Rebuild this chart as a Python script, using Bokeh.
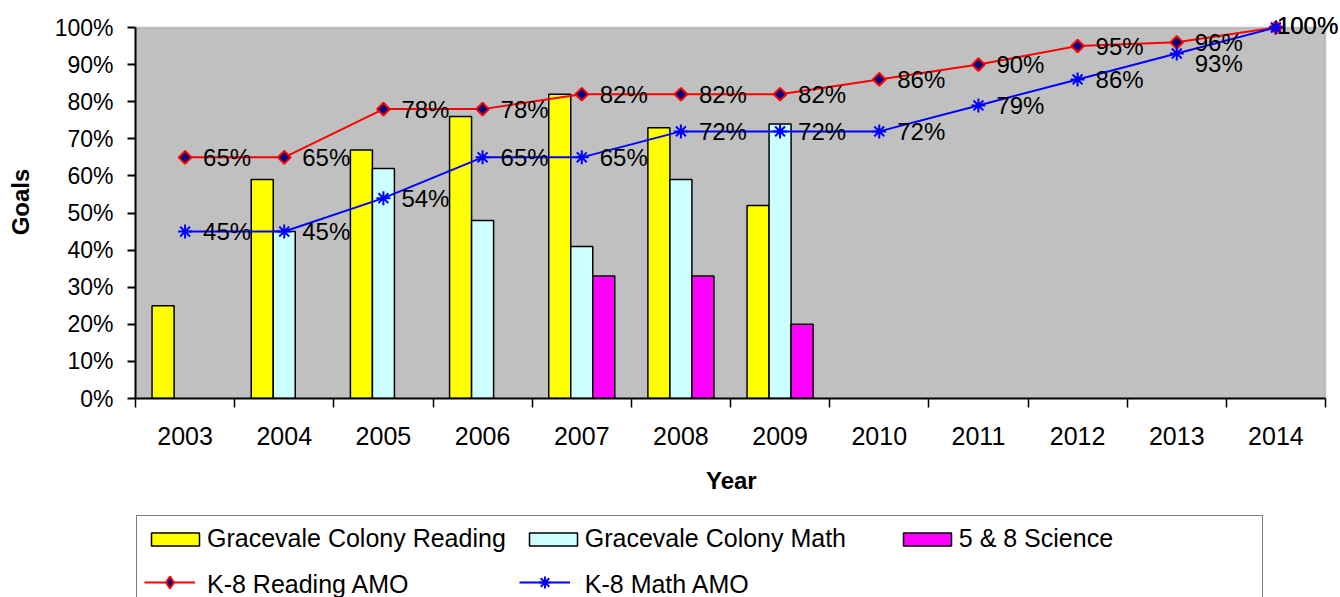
import numpy as np
from bokeh.plotting import figure
from bokeh.layouts import column
from bokeh.models import (ColumnDataSource, FixedTicker, PrintfTickFormatter, BoxAnnotation,
                          Legend, LegendItem, Range1d, BasicTickFormatter, Label)
from bokeh.embed import file_html
from bokeh.resources import INLINE

# ---------------- data ----------------
years = [2003, 2004, 2005, 2006, 2007, 2008, 2009, 2010, 2011, 2012, 2013, 2014]
colony_reading = [25, 59, 67, 76, 82, 73, 52, None, None, None, None, None]
colony_math = [None, 45, 62, 48, 41, 59, 74, None, None, None, None, None]
science_5_8 = [None, None, None, None, 33, 33, 20, None, None, None, None, None]
reading_amo = [65, 65, 78, 78, 82, 82, 82, 86, 90, 95, 96, 100]
math_amo = [45, 45, 54, 65, 65, 72, 72, 72, 79, 86, 93, 100]
y_ticks = [0, 10, 20, 30, 40, 50, 60, 70, 80, 90, 100]

FONT = "Liberation Sans"
YELLOW, CYAN, MAGENTA = "#FFFF00", "#CCFFFF", "#FF00FF"
RED, BLUE, NAVY = "#FF0000", "#0000FF", "#000080"

# layout (pixels): plot area 1190 x 371, with extra room right/top inside the frame
# so that the end labels ("100%") can run past the grey plot area as in the original
AREA_W, AREA_H, PAD_R, PAD_T = 1190, 371, 15, 22
x0, x1 = years[0] - 0.5, years[-1] + 0.5
y0, y1 = 0, 100
x_pad = PAD_R * (x1 - x0) / AREA_W
y_pad = PAD_T * (y1 - y0) / AREA_H

p = figure(width=1340, height=514, output_backend="svg", toolbar_location=None,
           x_range=Range1d(x0, x1 + x_pad), y_range=Range1d(y0, y1 + y_pad),
           min_border_left=135, min_border_right=0, min_border_top=5, min_border_bottom=116)
p.background_fill_color = "white"
p.border_fill_color = "white"
p.outline_line_color = None
p.grid.visible = False

p.add_layout(BoxAnnotation(left=x0, right=x1, bottom=y0, top=y1, fill_color="#C0C0C0",
                           fill_alpha=1.0, line_color="#808080", line_width=2, level="underlay"))

# ---------------- bars ----------------
BW = 0.222


def bars(vals, off, color):
    xs = [y + off for y, v in zip(years, vals) if v is not None]
    ts = [v for v in vals if v is not None]
    src = ColumnDataSource(dict(x=xs, top=ts))
    return p.vbar(x="x", top="top", bottom=0, width=BW, source=src,
                  fill_color=color, line_color="black", line_width=1.5)


bars(colony_reading, -BW, YELLOW)
bars(colony_math, 0.0, CYAN)
bars(science_5_8, BW, MAGENTA)

# ---------------- lines ----------------
p.line(years, reading_amo, line_color=RED, line_width=2)
p.scatter(years, reading_amo, marker="square", angle=np.pi / 4, size=9,
          fill_color=NAVY, line_color=RED, line_width=2)
p.line(years, math_amo, line_color=BLUE, line_width=2)
p.scatter(years, math_amo, marker="asterisk", size=14, line_color=BLUE, line_width=2)

# data labels
n = len(years)


def labels(vals, special):
    for i, (yr, v) in enumerate(zip(years, vals)):
        dx, dy = special.get(i, (18, 0))
        p.add_layout(Label(x=yr, y=v, text=f"{v}%", x_offset=dx, y_offset=dy,
                           text_font=FONT, text_font_size="24px", text_color="black",
                           text_align="left", text_baseline="middle"))


labels(math_amo, {n - 1: (1, 2), n - 2: (18, -10)})
labels(reading_amo, {n - 1: (1, 2)})

# ---------------- axes ----------------
xa = p.xaxis[0]
xa.bounds = (x0, x1)
xa.ticker = FixedTicker(ticks=years, minor_ticks=[y - 0.5 for y in years] + [years[-1] + 0.5])
xa.formatter = BasicTickFormatter(use_scientific=False)
xa.major_tick_out = 0
xa.major_tick_in = 0
xa.minor_tick_out = 9
xa.minor_tick_in = 0
xa.minor_tick_line_color = "black"
xa.minor_tick_line_width = 1.5
xa.axis_line_color = "black"
xa.axis_line_width = 2
xa.major_label_standoff = 19
xa.major_label_text_font = FONT
xa.major_label_text_font_size = "25px"
xa.major_label_text_color = "black"
# two no-break spaces centre "Year" under the grey area rather than under the wider frame
xa.axis_label = "Year\u00a0\u00a0"
xa.axis_label_text_font = FONT
xa.axis_label_text_font_size = "24px"
xa.axis_label_text_font_style = "bold"
xa.axis_label_text_color = "black"
xa.axis_label_standoff = 19

ya = p.yaxis[0]
ya.bounds = (y0, y1)
ya.ticker = FixedTicker(ticks=y_ticks, minor_ticks=[])
ya.formatter = PrintfTickFormatter(format="%d%%")
ya.major_tick_out = 8
ya.major_tick_in = 0
ya.major_tick_line_color = "black"
ya.major_tick_line_width = 2
ya.axis_line_color = "black"
ya.axis_line_width = 2
ya.major_label_standoff = 14
ya.major_label_text_font = FONT
ya.major_label_text_font_size = "23px"
ya.major_label_text_color = "black"
ya.axis_label = "Goals"
ya.axis_label_text_font = FONT
ya.axis_label_text_font_size = "24px"
ya.axis_label_text_font_style = "bold"
ya.axis_label_text_color = "black"
ya.axis_label_standoff = 18

# ---------------- legend (own strip below the chart) ----------------
pl = figure(width=1340, height=83, output_backend="svg", toolbar_location=None,
            x_range=Range1d(0, 1), y_range=Range1d(0, 1),
            x_axis_location=None, y_axis_location=None,
            min_border_left=135, min_border_right=0, min_border_top=0, min_border_bottom=0)
pl.grid.visible = False
pl.outline_line_color = None
pl.background_fill_color = "white"

# hidden legend proxies (only their legend swatches are drawn)
g_read = pl.vbar(x=[0], top=[0], width=1, fill_color=YELLOW, line_color="black", line_width=1.5, visible=False)
g_math = pl.vbar(x=[0], top=[0], width=1, fill_color=CYAN, line_color="black", line_width=1.5, visible=False)
g_sci = pl.vbar(x=[0], top=[0], width=1, fill_color=MAGENTA, line_color="black", line_width=1.5, visible=False)
ghost = pl.line(x=[0, 1], y=[0, 0], line_alpha=0.0, visible=False)
gl_r = pl.line(x=[0, 1], y=[0, 0], line_color=RED, line_width=2, visible=False)
gm_r = pl.scatter(x=[0], y=[0], marker="diamond", size=9,
                  fill_color=NAVY, line_color=RED, line_width=2, visible=False)
gl_m = pl.line(x=[0, 1], y=[0, 0], line_color=BLUE, line_width=2, visible=False)
gm_m = pl.scatter(x=[0], y=[0], marker="asterisk", size=14, line_color=BLUE, line_width=2, visible=False)

common = dict(location="top_left", orientation="horizontal",
              label_text_font=FONT, label_text_font_size="25px", label_text_color="black",
              inactive_fill_alpha=0.0)

# boxed legend: swatches for the bars, texts for all five series
legend_a = Legend(items=[
    LegendItem(label="Gracevale Colony Reading", renderers=[g_read]),
    LegendItem(label="Gracevale Colony Math", renderers=[g_math]),
    LegendItem(label="5 & 8 Science", renderers=[g_sci]),
    LegendItem(label="K-8 Reading AMO", renderers=[ghost]),
    LegendItem(label="K-8 Math AMO", renderers=[ghost]),
], ncols=3, glyph_width=60, glyph_height=16, label_standoff=2, label_width=295,
    spacing=17, padding=8, margin=1,
    border_line_color="black", border_line_width=1.5,
    background_fill_color="white", background_fill_alpha=1.0, **common)
pl.add_layout(legend_a, "center")

# overlay legend: line + marker symbols for the two AMO series at full marker size
legend_b = Legend(items=[
    LegendItem(label=" ", renderers=[ghost]),
    LegendItem(label=" ", renderers=[ghost]),
    LegendItem(label=" ", renderers=[gl_r, gm_r]),
    LegendItem(label=" ", renderers=[gl_m, gm_m]),
], ncols=2, glyph_width=51, glyph_height=30, label_standoff=10, label_width=300,
    spacing=14, padding=9, margin=9,
    border_line_color=None, background_fill_alpha=0.0, **common)
pl.add_layout(legend_b, "center")

layout = column(p, pl, spacing=0)
open("out.html", "w").write(file_html(layout, INLINE))
